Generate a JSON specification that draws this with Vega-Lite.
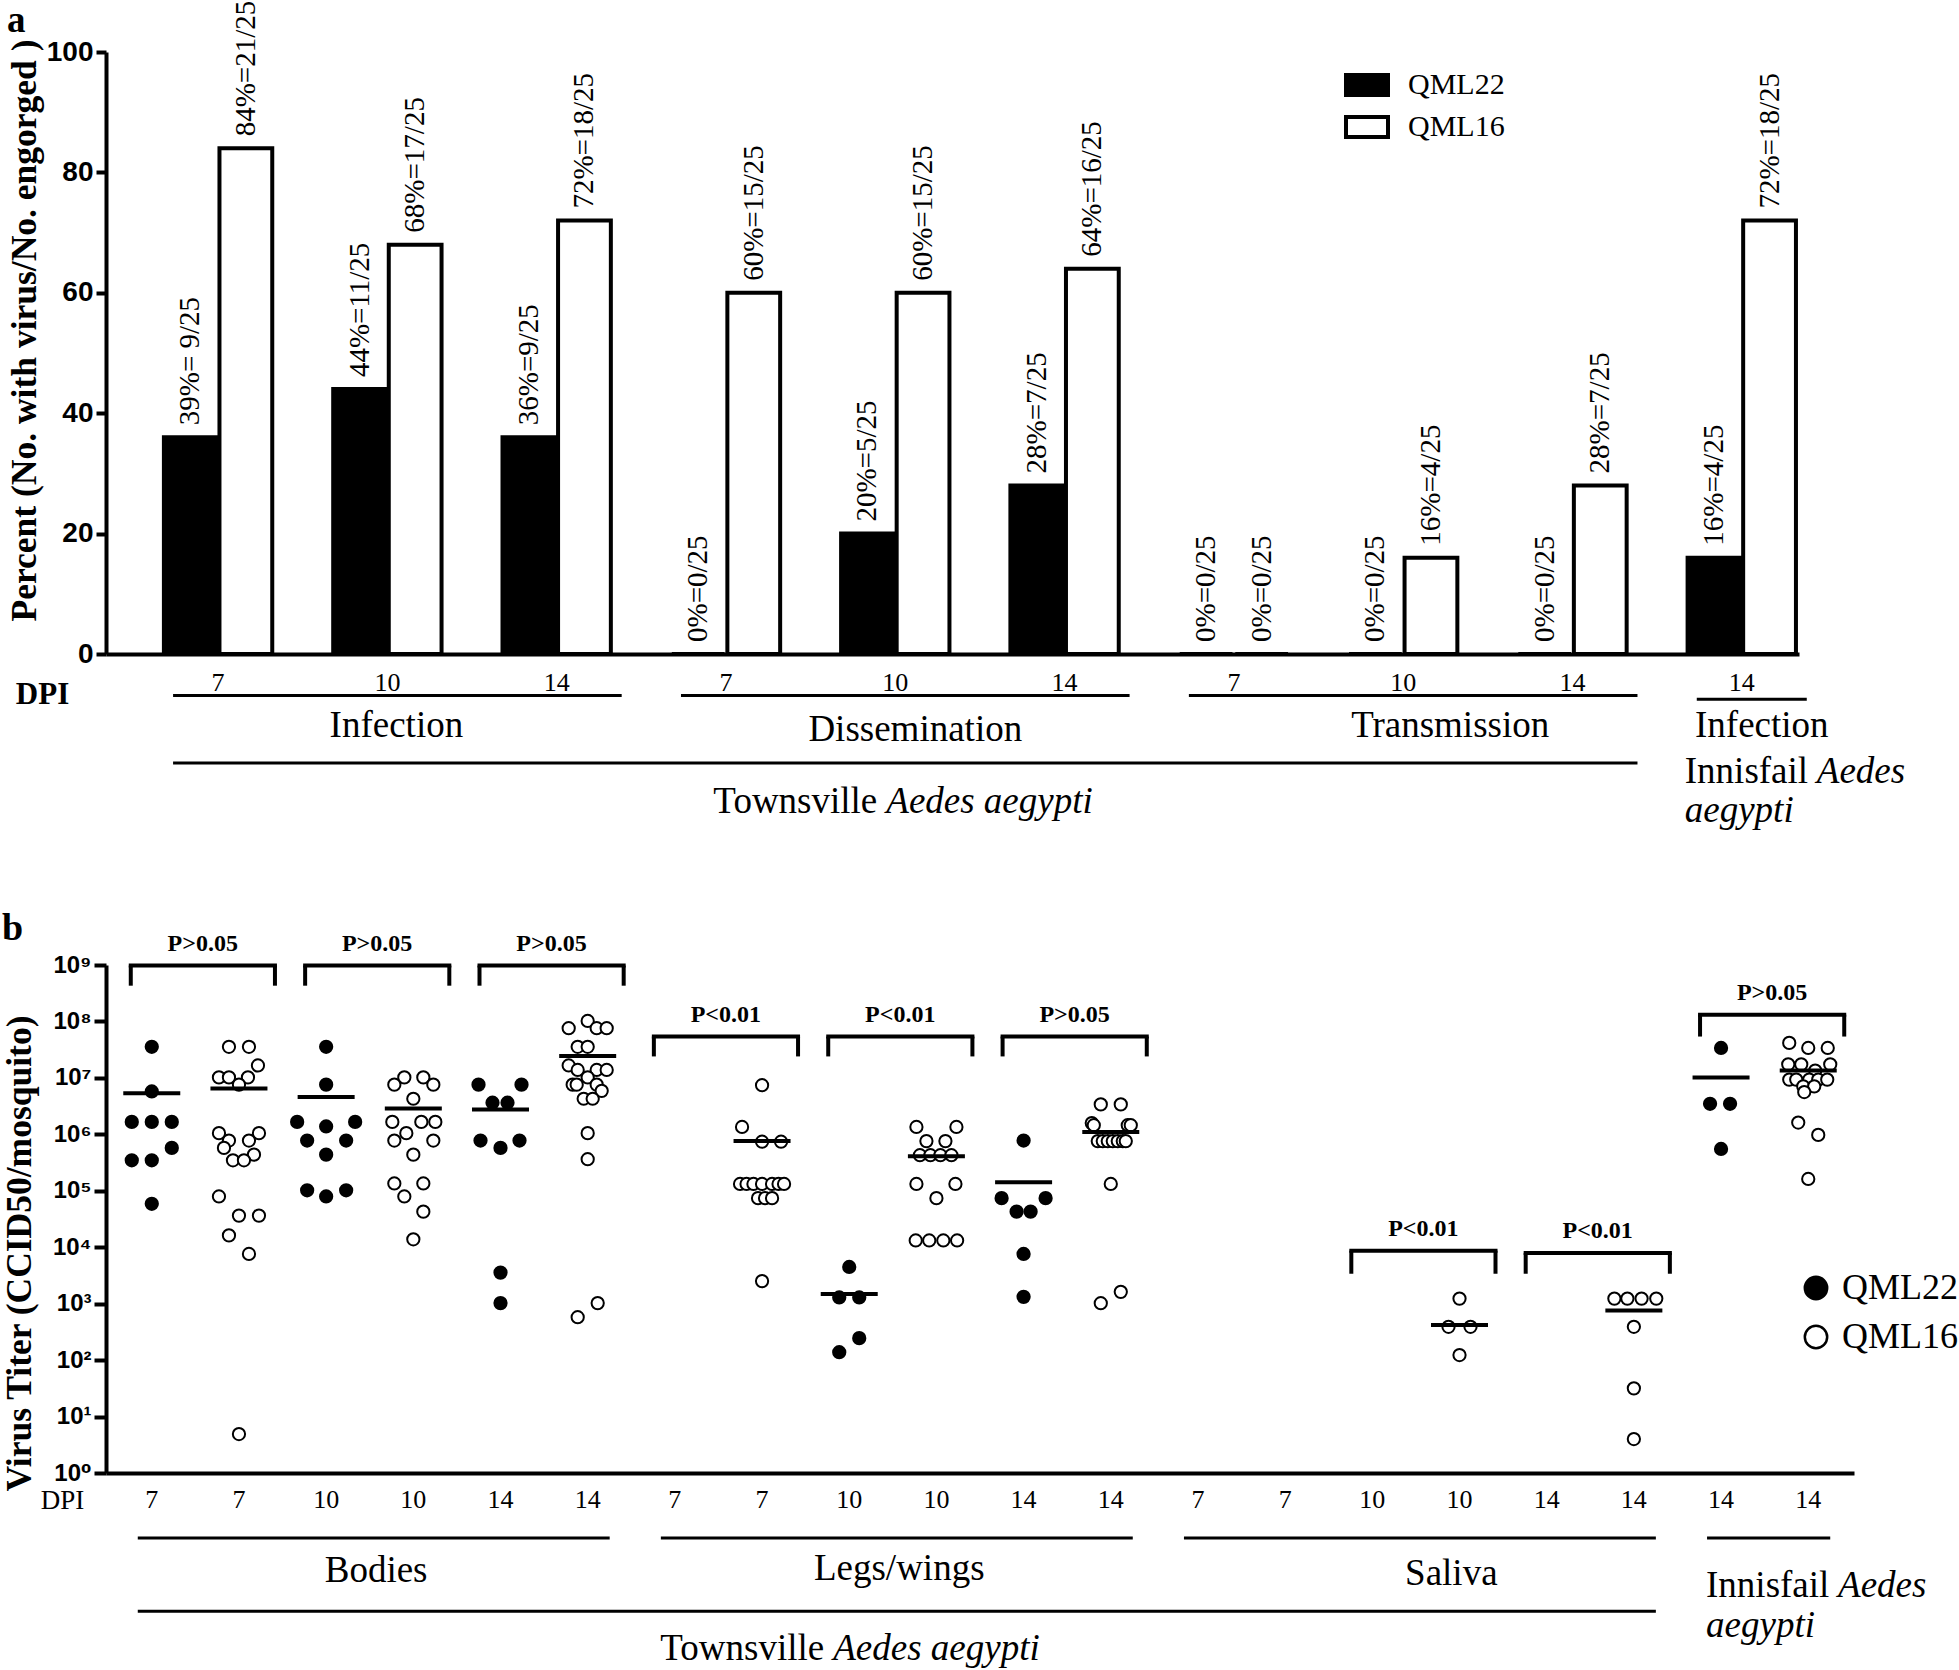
{
  "$schema": "https://vega.github.io/schema/vega-lite/v6.json",
  "background": "white",
  "padding": {"left": 2, "top": 0, "right": 0, "bottom": 0},
  "config": {
    "view": {"stroke": null},
    "font": "Liberation Serif",
    "axis": {"domainColor": "black", "tickColor": "black", "labelColor": "black", "titleColor": "black", "grid": false, "domainWidth": 4, "tickWidth": 4}
  },
  "spacing": 311,
  "bounds": "flush",
  "resolve": {"scale": {"x": "independent", "y": "independent", "fill": "independent", "xOffset": "independent"}, "legend": {"fill": "independent"}},
  "datasets": {
    "bars": [
      {"group": "Infection|7", "strain": "QML22", "pct": 36, "label": "39%= 9/25"},
      {"group": "Infection|7", "strain": "QML16", "pct": 84, "label": "84%=21/25"},
      {"group": "Infection|10", "strain": "QML22", "pct": 44, "label": "44%=11/25"},
      {"group": "Infection|10", "strain": "QML16", "pct": 68, "label": "68%=17/25"},
      {"group": "Infection|14", "strain": "QML22", "pct": 36, "label": "36%=9/25"},
      {"group": "Infection|14", "strain": "QML16", "pct": 72, "label": "72%=18/25"},
      {"group": "Dissemination|7", "strain": "QML22", "pct": 0, "label": "0%=0/25"},
      {"group": "Dissemination|7", "strain": "QML16", "pct": 60, "label": "60%=15/25"},
      {"group": "Dissemination|10", "strain": "QML22", "pct": 20, "label": "20%=5/25"},
      {"group": "Dissemination|10", "strain": "QML16", "pct": 60, "label": "60%=15/25"},
      {"group": "Dissemination|14", "strain": "QML22", "pct": 28, "label": "28%=7/25"},
      {"group": "Dissemination|14", "strain": "QML16", "pct": 64, "label": "64%=16/25"},
      {"group": "Transmission|7", "strain": "QML22", "pct": 0, "label": "0%=0/25"},
      {"group": "Transmission|7", "strain": "QML16", "pct": 0, "label": "0%=0/25"},
      {"group": "Transmission|10", "strain": "QML22", "pct": 0, "label": "0%=0/25"},
      {"group": "Transmission|10", "strain": "QML16", "pct": 16, "label": "16%=4/25"},
      {"group": "Transmission|14", "strain": "QML22", "pct": 0, "label": "0%=0/25"},
      {"group": "Transmission|14", "strain": "QML16", "pct": 28, "label": "28%=7/25"},
      {"group": "Innisfail|14", "strain": "QML22", "pct": 16, "label": "16%=4/25"},
      {"group": "Innisfail|14", "strain": "QML16", "pct": 72, "label": "72%=18/25"}
    ],
    "pts": [
      {"col": "Bodies|7|QML22", "strain": "QML22", "titer": 35500000, "j": 0},
      {"col": "Bodies|7|QML22", "strain": "QML22", "titer": 5750000, "j": 0},
      {"col": "Bodies|7|QML22", "strain": "QML22", "titer": 1660000, "j": -2},
      {"col": "Bodies|7|QML22", "strain": "QML22", "titer": 1660000, "j": 0},
      {"col": "Bodies|7|QML22", "strain": "QML22", "titer": 1660000, "j": 2},
      {"col": "Bodies|7|QML22", "strain": "QML22", "titer": 575000, "j": 2},
      {"col": "Bodies|7|QML22", "strain": "QML22", "titer": 347000, "j": -2},
      {"col": "Bodies|7|QML22", "strain": "QML22", "titer": 347000, "j": 0},
      {"col": "Bodies|7|QML22", "strain": "QML22", "titer": 58900, "j": 0},
      {"col": "Bodies|7|QML16", "strain": "QML16", "titer": 35500000, "j": -1},
      {"col": "Bodies|7|QML16", "strain": "QML16", "titer": 35500000, "j": 1},
      {"col": "Bodies|7|QML16", "strain": "QML16", "titer": 16600000, "j": 1.9},
      {"col": "Bodies|7|QML16", "strain": "QML16", "titer": 10200000, "j": -2},
      {"col": "Bodies|7|QML16", "strain": "QML16", "titer": 10200000, "j": -1},
      {"col": "Bodies|7|QML16", "strain": "QML16", "titer": 10200000, "j": 0.9},
      {"col": "Bodies|7|QML16", "strain": "QML16", "titer": 7590000, "j": 0},
      {"col": "Bodies|7|QML16", "strain": "QML16", "titer": 1050000, "j": -2},
      {"col": "Bodies|7|QML16", "strain": "QML16", "titer": 1050000, "j": 2},
      {"col": "Bodies|7|QML16", "strain": "QML16", "titer": 776000, "j": -1},
      {"col": "Bodies|7|QML16", "strain": "QML16", "titer": 776000, "j": 1},
      {"col": "Bodies|7|QML16", "strain": "QML16", "titer": 575000, "j": -1.5},
      {"col": "Bodies|7|QML16", "strain": "QML16", "titer": 437000, "j": 1.5},
      {"col": "Bodies|7|QML16", "strain": "QML16", "titer": 347000, "j": -0.6},
      {"col": "Bodies|7|QML16", "strain": "QML16", "titer": 347000, "j": 0.5},
      {"col": "Bodies|7|QML16", "strain": "QML16", "titer": 79400, "j": -2},
      {"col": "Bodies|7|QML16", "strain": "QML16", "titer": 36300, "j": 0},
      {"col": "Bodies|7|QML16", "strain": "QML16", "titer": 36300, "j": 2},
      {"col": "Bodies|7|QML16", "strain": "QML16", "titer": 16200, "j": -1},
      {"col": "Bodies|7|QML16", "strain": "QML16", "titer": 7590, "j": 1},
      {"col": "Bodies|7|QML16", "strain": "QML16", "titer": 4.9, "j": 0},
      {"col": "Bodies|10|QML22", "strain": "QML22", "titer": 35500000, "j": 0},
      {"col": "Bodies|10|QML22", "strain": "QML22", "titer": 7590000, "j": 0},
      {"col": "Bodies|10|QML22", "strain": "QML22", "titer": 1660000, "j": -2.9},
      {"col": "Bodies|10|QML22", "strain": "QML22", "titer": 1660000, "j": 2.9},
      {"col": "Bodies|10|QML22", "strain": "QML22", "titer": 1380000, "j": 0},
      {"col": "Bodies|10|QML22", "strain": "QML22", "titer": 776000, "j": -1.9},
      {"col": "Bodies|10|QML22", "strain": "QML22", "titer": 776000, "j": 2},
      {"col": "Bodies|10|QML22", "strain": "QML22", "titer": 437000, "j": 0},
      {"col": "Bodies|10|QML22", "strain": "QML22", "titer": 102000, "j": -1.9},
      {"col": "Bodies|10|QML22", "strain": "QML22", "titer": 102000, "j": 2},
      {"col": "Bodies|10|QML22", "strain": "QML22", "titer": 79400, "j": 0},
      {"col": "Bodies|10|QML16", "strain": "QML16", "titer": 10200000, "j": -0.9},
      {"col": "Bodies|10|QML16", "strain": "QML16", "titer": 10200000, "j": 1},
      {"col": "Bodies|10|QML16", "strain": "QML16", "titer": 7590000, "j": -1.9},
      {"col": "Bodies|10|QML16", "strain": "QML16", "titer": 7590000, "j": 2},
      {"col": "Bodies|10|QML16", "strain": "QML16", "titer": 4270000, "j": 0},
      {"col": "Bodies|10|QML16", "strain": "QML16", "titer": 1660000, "j": -2.1},
      {"col": "Bodies|10|QML16", "strain": "QML16", "titer": 1660000, "j": 0.8},
      {"col": "Bodies|10|QML16", "strain": "QML16", "titer": 1660000, "j": 2.2},
      {"col": "Bodies|10|QML16", "strain": "QML16", "titer": 1050000, "j": -0.7},
      {"col": "Bodies|10|QML16", "strain": "QML16", "titer": 776000, "j": -1.9},
      {"col": "Bodies|10|QML16", "strain": "QML16", "titer": 776000, "j": 2},
      {"col": "Bodies|10|QML16", "strain": "QML16", "titer": 437000, "j": 0},
      {"col": "Bodies|10|QML16", "strain": "QML16", "titer": 135000, "j": -1.9},
      {"col": "Bodies|10|QML16", "strain": "QML16", "titer": 135000, "j": 1},
      {"col": "Bodies|10|QML16", "strain": "QML16", "titer": 79400, "j": -0.9},
      {"col": "Bodies|10|QML16", "strain": "QML16", "titer": 42700, "j": 1},
      {"col": "Bodies|10|QML16", "strain": "QML16", "titer": 13800, "j": 0},
      {"col": "Bodies|14|QML22", "strain": "QML22", "titer": 7590000, "j": -2.2},
      {"col": "Bodies|14|QML22", "strain": "QML22", "titer": 7590000, "j": 2.1},
      {"col": "Bodies|14|QML22", "strain": "QML22", "titer": 3630000, "j": -0.8},
      {"col": "Bodies|14|QML22", "strain": "QML22", "titer": 3630000, "j": 0.7},
      {"col": "Bodies|14|QML22", "strain": "QML22", "titer": 776000, "j": -2},
      {"col": "Bodies|14|QML22", "strain": "QML22", "titer": 776000, "j": 1.9},
      {"col": "Bodies|14|QML22", "strain": "QML22", "titer": 575000, "j": 0},
      {"col": "Bodies|14|QML22", "strain": "QML22", "titer": 3548, "j": 0},
      {"col": "Bodies|14|QML22", "strain": "QML22", "titer": 1023, "j": 0},
      {"col": "Bodies|14|QML16", "strain": "QML16", "titer": 102000000, "j": 0},
      {"col": "Bodies|14|QML16", "strain": "QML16", "titer": 75900000, "j": -1.9},
      {"col": "Bodies|14|QML16", "strain": "QML16", "titer": 75900000, "j": 0.9},
      {"col": "Bodies|14|QML16", "strain": "QML16", "titer": 75900000, "j": 1.9},
      {"col": "Bodies|14|QML16", "strain": "QML16", "titer": 35500000, "j": -1},
      {"col": "Bodies|14|QML16", "strain": "QML16", "titer": 35500000, "j": 0},
      {"col": "Bodies|14|QML16", "strain": "QML16", "titer": 16600000, "j": -1.9},
      {"col": "Bodies|14|QML16", "strain": "QML16", "titer": 13800000, "j": -1},
      {"col": "Bodies|14|QML16", "strain": "QML16", "titer": 13800000, "j": 0.9},
      {"col": "Bodies|14|QML16", "strain": "QML16", "titer": 13800000, "j": 1.9},
      {"col": "Bodies|14|QML16", "strain": "QML16", "titer": 10200000, "j": 0},
      {"col": "Bodies|14|QML16", "strain": "QML16", "titer": 7590000, "j": -1.5},
      {"col": "Bodies|14|QML16", "strain": "QML16", "titer": 7590000, "j": -1.1},
      {"col": "Bodies|14|QML16", "strain": "QML16", "titer": 7590000, "j": 0.9},
      {"col": "Bodies|14|QML16", "strain": "QML16", "titer": 5890000, "j": 1.4},
      {"col": "Bodies|14|QML16", "strain": "QML16", "titer": 4270000, "j": -0.4},
      {"col": "Bodies|14|QML16", "strain": "QML16", "titer": 4270000, "j": 0.5},
      {"col": "Bodies|14|QML16", "strain": "QML16", "titer": 1050000, "j": 0},
      {"col": "Bodies|14|QML16", "strain": "QML16", "titer": 363000, "j": 0},
      {"col": "Bodies|14|QML16", "strain": "QML16", "titer": 575, "j": -1},
      {"col": "Bodies|14|QML16", "strain": "QML16", "titer": 1023, "j": 1},
      {"col": "Legs|7|QML16", "strain": "QML16", "titer": 7410000, "j": 0},
      {"col": "Legs|7|QML16", "strain": "QML16", "titer": 1350000, "j": -2},
      {"col": "Legs|7|QML16", "strain": "QML16", "titer": 741000, "j": 0},
      {"col": "Legs|7|QML16", "strain": "QML16", "titer": 741000, "j": 1.9},
      {"col": "Legs|7|QML16", "strain": "QML16", "titer": 132000, "j": -2.2},
      {"col": "Legs|7|QML16", "strain": "QML16", "titer": 132000, "j": -1.55},
      {"col": "Legs|7|QML16", "strain": "QML16", "titer": 132000, "j": -0.86},
      {"col": "Legs|7|QML16", "strain": "QML16", "titer": 132000, "j": 0},
      {"col": "Legs|7|QML16", "strain": "QML16", "titer": 132000, "j": 1},
      {"col": "Legs|7|QML16", "strain": "QML16", "titer": 132000, "j": 1.65},
      {"col": "Legs|7|QML16", "strain": "QML16", "titer": 132000, "j": 2.2},
      {"col": "Legs|7|QML16", "strain": "QML16", "titer": 74100, "j": -0.4},
      {"col": "Legs|7|QML16", "strain": "QML16", "titer": 74100, "j": 0.3},
      {"col": "Legs|7|QML16", "strain": "QML16", "titer": 74100, "j": 1},
      {"col": "Legs|7|QML16", "strain": "QML16", "titer": 2510, "j": 0},
      {"col": "Legs|10|QML22", "strain": "QML22", "titer": 4470, "j": 0},
      {"col": "Legs|10|QML22", "strain": "QML22", "titer": 1290, "j": -1},
      {"col": "Legs|10|QML22", "strain": "QML22", "titer": 1290, "j": 1},
      {"col": "Legs|10|QML22", "strain": "QML22", "titer": 245, "j": 1},
      {"col": "Legs|10|QML22", "strain": "QML22", "titer": 138, "j": -1},
      {"col": "Legs|10|QML16", "strain": "QML16", "titer": 1350000, "j": -2},
      {"col": "Legs|10|QML16", "strain": "QML16", "titer": 1350000, "j": 2},
      {"col": "Legs|10|QML16", "strain": "QML16", "titer": 759000, "j": -1},
      {"col": "Legs|10|QML16", "strain": "QML16", "titer": 759000, "j": 0.9},
      {"col": "Legs|10|QML16", "strain": "QML16", "titer": 427000, "j": -1.65},
      {"col": "Legs|10|QML16", "strain": "QML16", "titer": 427000, "j": -0.6},
      {"col": "Legs|10|QML16", "strain": "QML16", "titer": 427000, "j": 0.4},
      {"col": "Legs|10|QML16", "strain": "QML16", "titer": 427000, "j": 1.5},
      {"col": "Legs|10|QML16", "strain": "QML16", "titer": 132000, "j": -2},
      {"col": "Legs|10|QML16", "strain": "QML16", "titer": 132000, "j": 1.9},
      {"col": "Legs|10|QML16", "strain": "QML16", "titer": 74100, "j": 0},
      {"col": "Legs|10|QML16", "strain": "QML16", "titer": 13200, "j": -2.07},
      {"col": "Legs|10|QML16", "strain": "QML16", "titer": 13200, "j": -0.72},
      {"col": "Legs|10|QML16", "strain": "QML16", "titer": 13200, "j": 0.69},
      {"col": "Legs|10|QML16", "strain": "QML16", "titer": 13200, "j": 2.07},
      {"col": "Legs|14|QML22", "strain": "QML22", "titer": 776000, "j": 0},
      {"col": "Legs|14|QML22", "strain": "QML22", "titer": 74100, "j": -2.2},
      {"col": "Legs|14|QML22", "strain": "QML22", "titer": 74100, "j": 2.2},
      {"col": "Legs|14|QML22", "strain": "QML22", "titer": 42700, "j": -0.7},
      {"col": "Legs|14|QML22", "strain": "QML22", "titer": 42700, "j": 0.7},
      {"col": "Legs|14|QML22", "strain": "QML22", "titer": 7590, "j": 0},
      {"col": "Legs|14|QML22", "strain": "QML22", "titer": 1320, "j": 0},
      {"col": "Legs|14|QML16", "strain": "QML16", "titer": 3390000, "j": -1},
      {"col": "Legs|14|QML16", "strain": "QML16", "titer": 3390000, "j": 1},
      {"col": "Legs|14|QML16", "strain": "QML16", "titer": 1580000, "j": -1.9},
      {"col": "Legs|14|QML16", "strain": "QML16", "titer": 1450000, "j": -1.7},
      {"col": "Legs|14|QML16", "strain": "QML16", "titer": 1450000, "j": 1.7},
      {"col": "Legs|14|QML16", "strain": "QML16", "titer": 1450000, "j": 2},
      {"col": "Legs|14|QML16", "strain": "QML16", "titer": 759000, "j": -1.3},
      {"col": "Legs|14|QML16", "strain": "QML16", "titer": 759000, "j": -0.8},
      {"col": "Legs|14|QML16", "strain": "QML16", "titer": 759000, "j": -0.3},
      {"col": "Legs|14|QML16", "strain": "QML16", "titer": 759000, "j": 0.2},
      {"col": "Legs|14|QML16", "strain": "QML16", "titer": 759000, "j": 0.7},
      {"col": "Legs|14|QML16", "strain": "QML16", "titer": 759000, "j": 1.2},
      {"col": "Legs|14|QML16", "strain": "QML16", "titer": 759000, "j": 1.5},
      {"col": "Legs|14|QML16", "strain": "QML16", "titer": 132000, "j": 0},
      {"col": "Legs|14|QML16", "strain": "QML16", "titer": 1620, "j": 1},
      {"col": "Legs|14|QML16", "strain": "QML16", "titer": 1020, "j": -1},
      {"col": "Saliva|10|QML16", "strain": "QML16", "titer": 1230, "j": 0},
      {"col": "Saliva|10|QML16", "strain": "QML16", "titer": 389, "j": -1.1},
      {"col": "Saliva|10|QML16", "strain": "QML16", "titer": 389, "j": 1.1},
      {"col": "Saliva|10|QML16", "strain": "QML16", "titer": 123, "j": 0},
      {"col": "Saliva|14|QML16", "strain": "QML16", "titer": 1230, "j": -1.95},
      {"col": "Saliva|14|QML16", "strain": "QML16", "titer": 1230, "j": -0.65},
      {"col": "Saliva|14|QML16", "strain": "QML16", "titer": 1230, "j": 0.77},
      {"col": "Saliva|14|QML16", "strain": "QML16", "titer": 1230, "j": 2.24},
      {"col": "Saliva|14|QML16", "strain": "QML16", "titer": 389, "j": 0},
      {"col": "Saliva|14|QML16", "strain": "QML16", "titer": 31.6, "j": 0},
      {"col": "Saliva|14|QML16", "strain": "QML16", "titer": 4, "j": 0},
      {"col": "Innisfail|14|QML22", "strain": "QML22", "titer": 33900000, "j": 0},
      {"col": "Innisfail|14|QML22", "strain": "QML22", "titer": 3470000, "j": -1.1},
      {"col": "Innisfail|14|QML22", "strain": "QML22", "titer": 3470000, "j": 0.9},
      {"col": "Innisfail|14|QML22", "strain": "QML22", "titer": 550000, "j": 0},
      {"col": "Innisfail|14|QML16", "strain": "QML16", "titer": 41700000, "j": -1.9},
      {"col": "Innisfail|14|QML16", "strain": "QML16", "titer": 33900000, "j": 0},
      {"col": "Innisfail|14|QML16", "strain": "QML16", "titer": 33900000, "j": 1.95},
      {"col": "Innisfail|14|QML16", "strain": "QML16", "titer": 17400000, "j": -2},
      {"col": "Innisfail|14|QML16", "strain": "QML16", "titer": 17400000, "j": -0.7},
      {"col": "Innisfail|14|QML16", "strain": "QML16", "titer": 17400000, "j": 2.2},
      {"col": "Innisfail|14|QML16", "strain": "QML16", "titer": 13500000, "j": 0.7},
      {"col": "Innisfail|14|QML16", "strain": "QML16", "titer": 9330000, "j": -1.9},
      {"col": "Innisfail|14|QML16", "strain": "QML16", "titer": 9330000, "j": -1.2},
      {"col": "Innisfail|14|QML16", "strain": "QML16", "titer": 9330000, "j": 0.1},
      {"col": "Innisfail|14|QML16", "strain": "QML16", "titer": 9330000, "j": 1},
      {"col": "Innisfail|14|QML16", "strain": "QML16", "titer": 9330000, "j": 1.9},
      {"col": "Innisfail|14|QML16", "strain": "QML16", "titer": 7080000, "j": -0.5},
      {"col": "Innisfail|14|QML16", "strain": "QML16", "titer": 7080000, "j": 0.6},
      {"col": "Innisfail|14|QML16", "strain": "QML16", "titer": 5620000, "j": -0.4},
      {"col": "Innisfail|14|QML16", "strain": "QML16", "titer": 1620000, "j": -1},
      {"col": "Innisfail|14|QML16", "strain": "QML16", "titer": 977000, "j": 1},
      {"col": "Innisfail|14|QML16", "strain": "QML16", "titer": 162000, "j": 0}
    ],
    "means": [
      {"col": "Bodies|7|QML22", "titer": 5370000},
      {"col": "Bodies|7|QML16", "titer": 6460000},
      {"col": "Bodies|10|QML22", "titer": 4570000},
      {"col": "Bodies|10|QML16", "titer": 2880000},
      {"col": "Bodies|14|QML22", "titer": 2750000},
      {"col": "Bodies|14|QML16", "titer": 24500000},
      {"col": "Legs|7|QML16", "titer": 759000},
      {"col": "Legs|10|QML22", "titer": 1480},
      {"col": "Legs|10|QML16", "titer": 407000},
      {"col": "Legs|14|QML22", "titer": 141000},
      {"col": "Legs|14|QML16", "titer": 1100000},
      {"col": "Saliva|10|QML16", "titer": 417},
      {"col": "Saliva|14|QML16", "titer": 759},
      {"col": "Innisfail|14|QML22", "titer": 10200000},
      {"col": "Innisfail|14|QML16", "titer": 13500000}
    ],
    "brackets": [
      {"col": "Bodies|7|QML22", "to": "Bodies|7|QML16", "titer": 977000000, "p": "P>0.05"},
      {"col": "Bodies|10|QML22", "to": "Bodies|10|QML16", "titer": 977000000, "p": "P>0.05"},
      {"col": "Bodies|14|QML22", "to": "Bodies|14|QML16", "titer": 977000000, "p": "P>0.05"},
      {"col": "Legs|7|QML22", "to": "Legs|7|QML16", "titer": 54000000, "p": "P<0.01"},
      {"col": "Legs|10|QML22", "to": "Legs|10|QML16", "titer": 54000000, "p": "P<0.01"},
      {"col": "Legs|14|QML22", "to": "Legs|14|QML16", "titer": 54000000, "p": "P>0.05"},
      {"col": "Saliva|10|QML22", "to": "Saliva|10|QML16", "titer": 8700, "p": "P<0.01"},
      {"col": "Saliva|14|QML22", "to": "Saliva|14|QML16", "titer": 7940, "p": "P<0.01"},
      {"col": "Innisfail|14|QML22", "to": "Innisfail|14|QML16", "titer": 132000000, "p": "P>0.05"}
    ],
    "legsL": [
      {"col": "Bodies|7|QML22", "titer": 977000000, "bot": 430000000},
      {"col": "Bodies|10|QML22", "titer": 977000000, "bot": 430000000},
      {"col": "Bodies|14|QML22", "titer": 977000000, "bot": 430000000},
      {"col": "Legs|7|QML22", "titer": 54000000, "bot": 24000000},
      {"col": "Legs|10|QML22", "titer": 54000000, "bot": 24000000},
      {"col": "Legs|14|QML22", "titer": 54000000, "bot": 24000000},
      {"col": "Saliva|10|QML22", "titer": 8700, "bot": 3390},
      {"col": "Saliva|14|QML22", "titer": 7940, "bot": 3390},
      {"col": "Innisfail|14|QML22", "titer": 132000000, "bot": 54000000}
    ],
    "legsR": [
      {"col": "Bodies|7|QML16", "titer": 977000000, "bot": 430000000},
      {"col": "Bodies|10|QML16", "titer": 977000000, "bot": 430000000},
      {"col": "Bodies|14|QML16", "titer": 977000000, "bot": 430000000},
      {"col": "Legs|7|QML16", "titer": 54000000, "bot": 24000000},
      {"col": "Legs|10|QML16", "titer": 54000000, "bot": 24000000},
      {"col": "Legs|14|QML16", "titer": 54000000, "bot": 24000000},
      {"col": "Saliva|10|QML16", "titer": 8700, "bot": 3390},
      {"col": "Saliva|14|QML16", "titer": 7940, "bot": 3390},
      {"col": "Innisfail|14|QML16", "titer": 132000000, "bot": 54000000}
    ]
  },
  "vconcat": [
    {
      "width": 1693,
      "height": 602,
      "title": {"text": "a", "anchor": "start", "frame": "bounds", "font": "Liberation Serif", "fontSize": 37, "fontWeight": "bold", "baseline": "alphabetic", "offset": -68, "color": "black"},
      "encoding": {
        "x": {
          "field": "group", "type": "nominal", "sort": null,
          "scale": {"type": "band", "domain": ["Infection|7", "Infection|10", "Infection|14", "Dissemination|7", "Dissemination|10", "Dissemination|14", "Transmission|7", "Transmission|10", "Transmission|14", "Innisfail|14"], "paddingInner": 0.36, "paddingOuter": 0.18, "align": 0.95},
          "axis": {"labelExpr": "split(datum.value, '|')[1]", "labelAngle": 0, "labelFont": "Liberation Serif", "labelFontSize": 26, "labelPadding": 15, "ticks": false, "title": "DPI", "titleFont": "Liberation Serif", "titleFontWeight": "bold", "titleFontSize": 31, "titleX": -64, "titleY": 40, "titleAngle": 0, "titleAlign": "center", "titleBaseline": "middle"}
        },
        "y": {
          "field": "pct", "type": "quantitative",
          "scale": {"domain": [0, 100], "nice": false},
          "axis": {"values": [0, 20, 40, 60, 80, 100], "labelFont": "Liberation Sans", "labelFontWeight": "bold", "labelFontSize": 28, "tickSize": 10, "labelPadding": 3, "title": "Percent (No. with virus/No. engorged )", "titleFont": "Liberation Serif", "titleFontWeight": "bold", "titleFontSize": 35.5, "titleX": -82, "titleY": 278, "titleAlign": "center", "titleBaseline": "middle"}
        }
      },
      "layer": [
        {
          "data": {"name": "bars"},
          "mark": {"type": "bar", "stroke": "black", "strokeWidth": 4},
          "encoding": {
            "xOffset": {"field": "strain", "type": "nominal", "sort": null, "scale": {"domain": ["QML22", "QML16"], "paddingInner": 0.05, "paddingOuter": 0}},
            "fill": {"field": "strain", "type": "nominal", "sort": null, "scale": {"domain": ["QML22", "QML16"], "range": ["black", "white"]},
              "legend": {"title": null, "orient": "none", "legendX": 1238, "legendY": 10, "symbolType": "M-1,-0.48H1V0.48H-1Z", "symbolSize": 1764, "symbolStrokeColor": "black", "symbolStrokeWidth": 4, "labelFont": "Liberation Serif", "labelFontSize": 30, "labelColor": "black", "labelOffset": 18, "rowPadding": -2, "padding": 0}}
          }
        },
        {
          "data": {"name": "bars"},
          "mark": {"type": "text", "angle": 270, "align": "left", "baseline": "middle", "dx": 12, "fontSize": 29, "font": "Liberation Serif", "color": "black"},
          "encoding": {
            "xOffset": {"field": "strain", "type": "nominal", "sort": null},
            "text": {"field": "label"}
          }
        },
        {
          "data": {"values": [
            {"group": "Infection|7", "to": "Infection|14", "pct": -6.9},
            {"group": "Dissemination|7", "to": "Dissemination|14", "pct": -6.9},
            {"group": "Transmission|7", "to": "Transmission|14", "pct": -6.9},
            {"group": "Innisfail|14", "to": "Innisfail|14", "pct": -7.5},
            {"group": "Infection|7", "to": "Transmission|14", "pct": -18.1}
          ]},
          "mark": {"type": "rule", "color": "black", "strokeWidth": 3, "xOffset": -45, "x2Offset": 65},
          "encoding": {"x2": {"field": "to"}}
        },
        {
          "data": {"values": [{"group": "Infection|10", "pct": -12, "t": "Infection"}]},
          "mark": {"type": "text", "align": "center", "baseline": "middle", "dx": 9, "fontSize": 37, "font": "Liberation Serif", "color": "black"},
          "encoding": {"text": {"field": "t"}}
        },
        {
          "data": {"values": [{"group": "Dissemination|10", "pct": -12.6, "t": "Dissemination"}, {"group": "Innisfail|14", "pct": -12, "t": "Infection"}]},
          "mark": {"type": "text", "align": "center", "baseline": "middle", "dx": 20, "fontSize": 37, "font": "Liberation Serif", "color": "black"},
          "encoding": {"text": {"field": "t"}}
        },
        {
          "data": {"values": [{"group": "Transmission|10", "pct": -12, "t": "Transmission"}]},
          "mark": {"type": "text", "align": "center", "baseline": "middle", "dx": 47, "fontSize": 37, "font": "Liberation Serif", "color": "black"},
          "encoding": {"text": {"field": "t"}}
        },
        {
          "data": {"values": [{"group": "Dissemination|10", "pct": -24.6, "t": "Townsville"}]},
          "mark": {"type": "text", "align": "right", "baseline": "middle", "dx": -18, "fontSize": 37, "font": "Liberation Serif", "color": "black"},
          "encoding": {"text": {"field": "t"}}
        },
        {
          "data": {"values": [{"group": "Dissemination|10", "pct": -24.6, "t": "Aedes aegypti"}]},
          "mark": {"type": "text", "align": "left", "baseline": "middle", "dx": -9, "fontSize": 37, "font": "Liberation Serif", "fontStyle": "italic", "color": "black"},
          "encoding": {"text": {"field": "t"}}
        },
        {
          "data": {"values": [{"group": "Innisfail|14", "pct": -19.6, "t": "Innisfail"}]},
          "mark": {"type": "text", "align": "left", "baseline": "middle", "dx": -57, "fontSize": 37, "font": "Liberation Serif", "color": "black"},
          "encoding": {"text": {"field": "t"}}
        },
        {
          "data": {"values": [{"group": "Innisfail|14", "pct": -19.6, "t": "Aedes"}]},
          "mark": {"type": "text", "align": "left", "baseline": "middle", "dx": 75, "fontSize": 37, "font": "Liberation Serif", "fontStyle": "italic", "color": "black"},
          "encoding": {"text": {"field": "t"}}
        },
        {
          "data": {"values": [{"group": "Innisfail|14", "pct": -26.1, "t": "aegypti"}]},
          "mark": {"type": "text", "align": "left", "baseline": "middle", "dx": -57, "fontSize": 37, "font": "Liberation Serif", "fontStyle": "italic", "color": "black"},
          "encoding": {"text": {"field": "t"}}
        }
      ]
    },
    {
      "width": 1748,
      "height": 508,
      "title": {"text": "b", "anchor": "start", "frame": "bounds", "font": "Liberation Serif", "fontSize": 38, "fontWeight": "bold", "baseline": "alphabetic", "offset": -46, "color": "black"},
      "encoding": {
        "x": {
          "field": "col", "type": "nominal", "sort": null,
          "scale": {"type": "band", "paddingInner": 0, "paddingOuter": 0.025, "domain": ["Bodies|7|QML22", "Bodies|7|QML16", "Bodies|10|QML22", "Bodies|10|QML16", "Bodies|14|QML22", "Bodies|14|QML16", "Legs|7|QML22", "Legs|7|QML16", "Legs|10|QML22", "Legs|10|QML16", "Legs|14|QML22", "Legs|14|QML16", "Saliva|7|QML22", "Saliva|7|QML16", "Saliva|10|QML22", "Saliva|10|QML16", "Saliva|14|QML22", "Saliva|14|QML16", "Innisfail|14|QML22", "Innisfail|14|QML16"]},
          "axis": {"labelExpr": "split(datum.value, '|')[1]", "labelAngle": 0, "labelFont": "Liberation Serif", "labelFontSize": 26, "labelPadding": 13, "ticks": false, "title": "DPI", "titleFont": "Liberation Serif", "titleFontWeight": "normal", "titleFontSize": 27, "titleX": -44, "titleY": 27, "titleAngle": 0, "titleAlign": "center", "titleBaseline": "middle"}
        },
        "y": {
          "field": "titer", "type": "quantitative",
          "scale": {"type": "log", "domain": [1, 1000000000], "nice": false},
          "axis": {"values": [1, 10, 100, 1000, 10000, 100000, 1000000, 10000000, 100000000, 1000000000], "labelExpr": "'10' + ['⁰','¹','²','³','⁴','⁵','⁶','⁷','⁸','⁹'][round(log(datum.value) / LN10)]", "labelFont": "Liberation Sans, DejaVu Sans", "labelFontWeight": "bold", "labelFontSize": 24, "tickSize": 12, "labelPadding": 3, "title": "Virus Titer (CCID50/mosquito)", "titleFont": "Liberation Serif", "titleFontWeight": "bold", "titleFontSize": 35.5, "titleX": -87, "titleY": 288, "titleAlign": "center", "titleBaseline": "middle"}
        }
      },
      "layer": [
        {
          "data": {"name": "pts"},
          "mark": {"type": "point", "shape": "circle", "filled": true, "size": 150, "stroke": "black", "strokeWidth": 2, "opacity": 1},
          "encoding": {
            "xOffset": {"field": "j", "type": "quantitative", "scale": {"domain": [-5, 5], "range": [-6.4, 93.6]}},
            "fill": {"field": "strain", "type": "nominal", "sort": null, "scale": {"domain": ["QML22", "QML16"], "range": ["black", "white"]},
              "legend": {"title": null, "orient": "none", "legendX": 1692, "legendY": 305, "symbolType": "circle", "symbolSize": 500, "symbolStrokeColor": "black", "symbolStrokeWidth": 2.5, "symbolOpacity": 1, "labelFont": "Liberation Serif", "labelFontSize": 36, "labelColor": "black", "labelOffset": 8, "rowPadding": 13, "padding": 0}}
          }
        },
        {
          "data": {"name": "means"},
          "mark": {"type": "tick", "orient": "horizontal", "size": 57, "thickness": 4, "color": "black", "opacity": 1}
        },
        {
          "data": {"name": "brackets"},
          "mark": {"type": "rule", "color": "black", "strokeWidth": 4, "xOffset": -21, "x2Offset": 36, "strokeCap": "square"},
          "encoding": {"x2": {"field": "to"}}
        },
        {
          "data": {"name": "legsL"},
          "mark": {"type": "rule", "color": "black", "strokeWidth": 4, "xOffset": -21},
          "encoding": {"y2": {"field": "bot"}}
        },
        {
          "data": {"name": "legsR"},
          "mark": {"type": "rule", "color": "black", "strokeWidth": 4, "xOffset": 36},
          "encoding": {"y2": {"field": "bot"}}
        },
        {
          "data": {"name": "brackets"},
          "mark": {"type": "text", "align": "center", "baseline": "middle", "dx": 51, "dy": -22, "fontSize": 24, "fontWeight": "bold", "font": "Liberation Serif", "color": "black"},
          "encoding": {"text": {"field": "p"}}
        },
        {
          "data": {"values": [
            {"col": "Bodies|7|QML22", "to": "Bodies|14|QML16", "titer": 0.0708},
            {"col": "Legs|7|QML22", "to": "Legs|14|QML16", "titer": 0.0708},
            {"col": "Saliva|7|QML22", "to": "Saliva|14|QML16", "titer": 0.0708},
            {"col": "Innisfail|14|QML22", "to": "Innisfail|14|QML16", "titer": 0.0708},
            {"col": "Bodies|7|QML22", "to": "Saliva|14|QML16", "titer": 0.00355}
          ]},
          "mark": {"type": "rule", "color": "black", "strokeWidth": 3, "xOffset": -14, "x2Offset": 22},
          "encoding": {"x2": {"field": "to"}}
        },
        {
          "data": {"values": [{"col": "Bodies|10|QML22", "titer": 0.0182, "t": "Bodies"}, {"col": "Legs|10|QML22", "titer": 0.02, "t": "Legs/wings"}]},
          "mark": {"type": "text", "align": "center", "baseline": "middle", "dx": 50, "fontSize": 37, "font": "Liberation Serif", "color": "black"},
          "encoding": {"text": {"field": "t"}}
        },
        {
          "data": {"values": [{"col": "Saliva|10|QML22", "titer": 0.0162, "t": "Saliva"}]},
          "mark": {"type": "text", "align": "center", "baseline": "middle", "dx": 79, "fontSize": 37, "font": "Liberation Serif", "color": "black"},
          "encoding": {"text": {"field": "t"}}
        },
        {
          "data": {"values": [{"col": "Legs|10|QML22", "titer": 0.00076, "t": "Townsville"}]},
          "mark": {"type": "text", "align": "right", "baseline": "middle", "dx": -25, "fontSize": 37, "font": "Liberation Serif", "color": "black"},
          "encoding": {"text": {"field": "t"}}
        },
        {
          "data": {"values": [{"col": "Legs|10|QML22", "titer": 0.00076, "t": "Aedes aegypti"}]},
          "mark": {"type": "text", "align": "left", "baseline": "middle", "dx": -16, "fontSize": 37, "font": "Liberation Serif", "fontStyle": "italic", "color": "black"},
          "encoding": {"text": {"field": "t"}}
        },
        {
          "data": {"values": [{"col": "Innisfail|14|QML22", "titer": 0.01, "t": "Innisfail"}]},
          "mark": {"type": "text", "align": "left", "baseline": "middle", "dx": -15, "fontSize": 37, "font": "Liberation Serif", "color": "black"},
          "encoding": {"text": {"field": "t"}}
        },
        {
          "data": {"values": [{"col": "Innisfail|14|QML22", "titer": 0.01, "t": "Aedes"}]},
          "mark": {"type": "text", "align": "left", "baseline": "middle", "dx": 117, "fontSize": 37, "font": "Liberation Serif", "fontStyle": "italic", "color": "black"},
          "encoding": {"text": {"field": "t"}}
        },
        {
          "data": {"values": [{"col": "Innisfail|14|QML22", "titer": 0.00195, "t": "aegypti"}]},
          "mark": {"type": "text", "align": "left", "baseline": "middle", "dx": -15, "fontSize": 37, "font": "Liberation Serif", "fontStyle": "italic", "color": "black"},
          "encoding": {"text": {"field": "t"}}
        }
      ]
    }
  ]
}
